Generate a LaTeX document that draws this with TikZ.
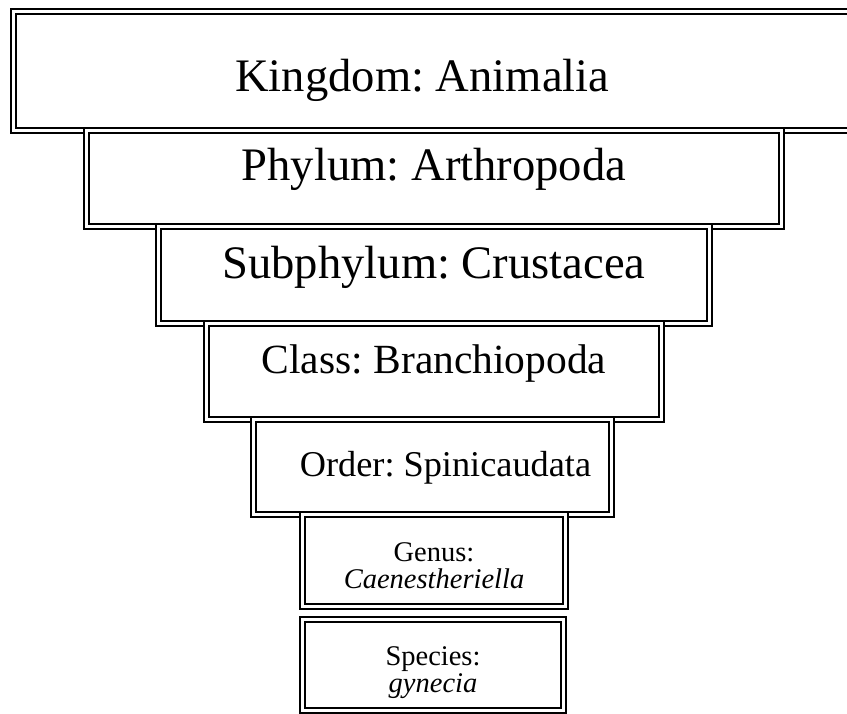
\documentclass[tikz,border=0pt]{standalone}
\usepackage{fontspec}
\setmainfont{Liberation Serif}
\frenchspacing

\begin{document}
\begin{tikzpicture}[x=1pt, y=-1pt,
	rankbox/.style={draw=black, fill=white, double, line width=2pt, double distance=3pt, inner sep=0pt},
	bigtext/.style={font=\fontsize{46.6}{50}\selectfont},
	midtext/.style={font=\fontsize{41.5}{45}\selectfont},
	smalltext/.style={font=\fontsize{36.3}{40}\selectfont},
	tinytext/.style={font=\fontsize{28.5}{27}\selectfont, align=center}]
	\useasboundingbox (0,0) rectangle (847,713);

	\node[rankbox, bigtext, anchor=base, minimum width=838.5pt, text height=79.5pt, text depth=39.5pt] (kingdom) at (432.75, 91) {Kingdom: Animalia\hspace*{21pt}};
	\node[rankbox, bigtext, anchor=base, minimum width=695pt, text height=50pt, text depth=46pt] (phylum) at (434, 180.5) {Phylum: Arthropoda};
	\node[rankbox, bigtext, anchor=base, minimum width=551pt, text height=51.5pt, text depth=45pt] (subphylum) at (434, 278) {Subphylum: Crustacea};
	\node[rankbox, midtext, anchor=base, minimum width=455pt, text height=50pt, text depth=46.5pt] (class) at (434, 373) {Class: Branchiopoda};
	\node[rankbox, smalltext, anchor=base, minimum width=358pt, text height=56.5pt, text depth=38pt] (order) at (432.5, 476) {\hspace*{26pt}Order: Spinicaudata};
	\node[rankbox, tinytext, minimum width=263pt, minimum height=92.5pt] (genus) at (434, 560.25) {\rule{0pt}{30pt}Genus:\\\textit{Caenestheriella}};
	\node[rankbox, tinytext, minimum width=261pt, minimum height=90.5pt] (species) at (433, 664.75) {\rule{0pt}{34pt}Species:\\\textit{gynecia}};

\end{tikzpicture}
\end{document}
